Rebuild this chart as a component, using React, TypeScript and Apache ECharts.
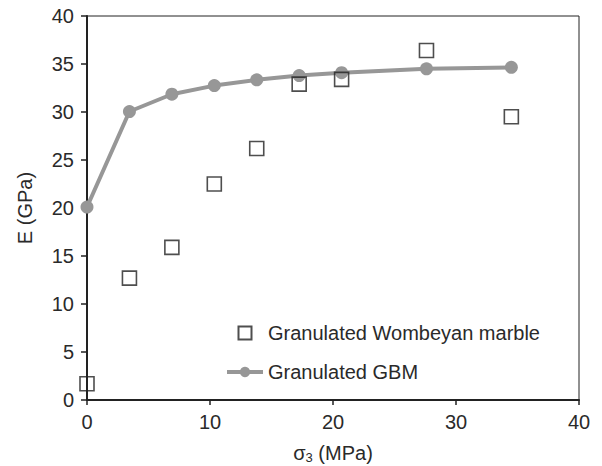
import React, { useEffect, useRef } from "react";
import * as echarts from "echarts";

const sigma3 = [0, 3.45, 6.9, 10.35, 13.8, 17.25, 20.7, 27.6, 34.5];
const wombeyanE = [1.7, 12.7, 15.9, 22.5, 26.2, 32.9, 33.4, 36.4, 29.5];
const gbmE = [20.1, 30.05, 31.85, 32.75, 33.35, 33.8, 34.1, 34.5, 34.65];

const xTicks = { min: 0, max: 40, interval: 10 };
const yTicks = { min: 0, max: 40, interval: 5 };

const seriesNames = ["Granulated Wombeyan marble", "Granulated GBM"];

const FONT = "'Liberation Sans', Arial, Helvetica, sans-serif";
const TEXT = "#2a2a2a";
const AXIS = "#222222";
const GREY = "#979797";
const FS = 20;

export default function App() {
  const ref = useRef<HTMLDivElement>(null);

  useEffect(() => {
    if (!ref.current) return;
    const chart = echarts.init(ref.current, undefined, { renderer: "svg" });
    const option: any = {
      animation: false,
      backgroundColor: "#ffffff",
      textStyle: { fontFamily: FONT },
      grid: {
        left: 87,
        right: 23,
        top: 16,
        bottom: 66,
        outerBoundsMode: "none",
        containLabel: false,
        show: true,
        borderColor: AXIS,
        borderWidth: 1,
        backgroundColor: "transparent",
      },
      legend: {
        data: [
          { name: seriesNames[0], icon: "path://M0,0 L10,0 L10,10 L0,10 Z" },
          { name: seriesNames[1] },
        ],
        orient: "vertical",
        left: 220,
        top: 318,
        padding: 5,
        itemWidth: 36,
        itemHeight: 13,
        itemGap: 19,
        symbolKeepAspect: true,
        lineStyle: { width: 4 },
        textStyle: { fontFamily: FONT, fontSize: FS, color: TEXT },
      },
      xAxis: {
        type: "value",
        min: xTicks.min,
        max: xTicks.max,
        interval: xTicks.interval,
        name: "{s|σ}{sub|3}{s| (MPa)}",
        nameLocation: "middle",
        nameGap: 43,
        nameTextStyle: {
          fontFamily: FONT,
          color: TEXT,
          rich: {
            s: { fontSize: FS, lineHeight: 20, fontFamily: FONT, color: TEXT },
            sub: { fontSize: 13, lineHeight: 13, fontFamily: FONT, color: TEXT, padding: [9, 0, 0, 0] },
          },
        },
        axisLine: { show: true, lineStyle: { color: AXIS, width: 2 } },
        axisTick: { show: true, inside: false, length: 5, lineStyle: { color: AXIS, width: 1.5 } },
        axisLabel: { fontSize: FS, color: TEXT, margin: 12, fontFamily: FONT },
        splitLine: { show: false },
      },
      yAxis: {
        type: "value",
        min: yTicks.min,
        max: yTicks.max,
        interval: yTicks.interval,
        name: "E (GPa)",
        nameLocation: "middle",
        nameGap: 52,
        nameTextStyle: { fontSize: FS, color: TEXT, fontFamily: FONT },
        axisLine: { show: true, lineStyle: { color: AXIS, width: 2 } },
        axisTick: { show: true, inside: false, length: 6, lineStyle: { color: AXIS, width: 1.5 } },
        axisLabel: { fontSize: FS, color: TEXT, margin: 13, fontFamily: FONT },
        splitLine: { show: false },
      },
      series: [
        {
          name: seriesNames[1],
          type: "line",
          data: sigma3.map((x, i) => [x, gbmE[i]]),
          symbol: "circle",
          symbolSize: 13,
          showSymbol: true,
          lineStyle: { color: GREY, width: 4 },
          itemStyle: { color: GREY },
          z: 2,
        },
        {
          name: seriesNames[0],
          type: "scatter",
          data: sigma3.map((x, i) => [x, wombeyanE[i]]),
          symbol: "rect",
          symbolSize: 14,
          itemStyle: { color: "rgba(255,255,255,0)", borderColor: AXIS, borderWidth: 1.6 },
          z: 3,
        },
      ],
    };
    chart.setOption(option);
    return () => chart.dispose();
  }, []);

  return (
    <div
      ref={ref}
      style={{ position: "fixed", left: 0, top: 0, width: 602, height: 466 }}
    />
  );
}
